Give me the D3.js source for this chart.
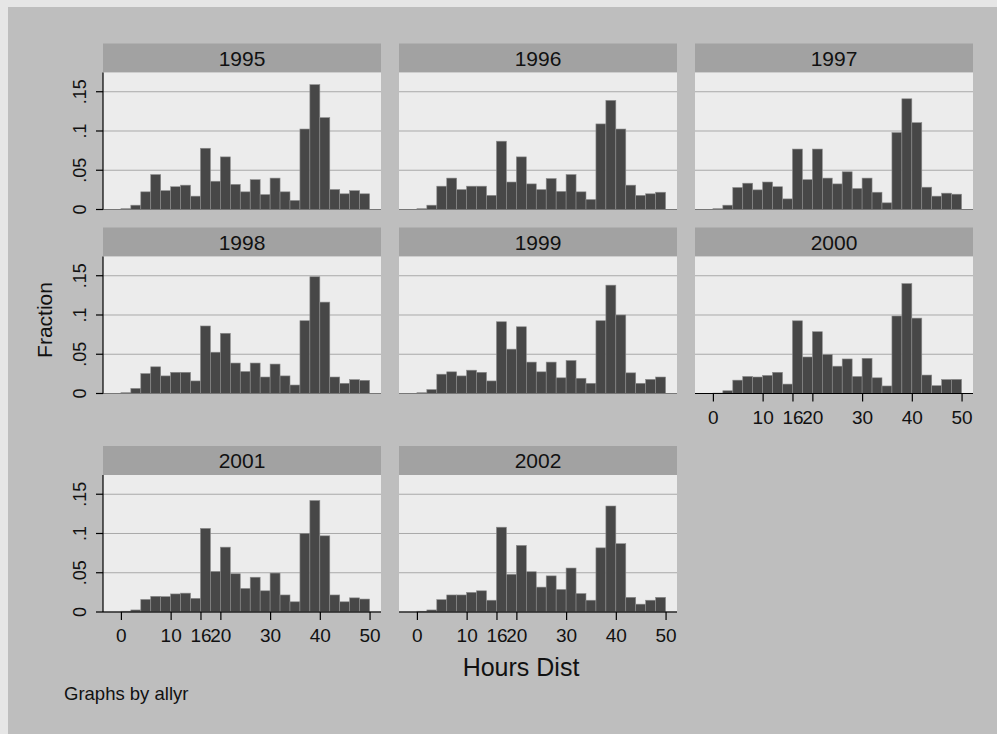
<!DOCTYPE html>
<meta charset="utf-8">
<style>
body{ margin:0; background:#e6e6e6; }
svg{ display:block; font-family:"Liberation Sans", Arial, sans-serif; }
.grid line{ stroke:#a9a9a9; stroke-width:1px; }
.bar{ fill:#474747; stroke:#8c8c8c; stroke-width:0.6px; }
.strip{ fill:#a2a2a2; }
.plotbg{ fill:#ececec; }
.axis path, .axis line{ stroke:#000; stroke-width:1.2px; }
.axis text{ fill:#111; }
</style>
<body>
<script src="https://cdn.jsdelivr.net/npm/d3@7"></script>
<script>
// bin edges: 25 bins of width 2 from 0 to 50
var binStart = d3.range(0, 50, 2);
var years = ["1995","1996","1997","1998","1999","2000","2001","2002"];
var xTicks = [0, 10, 16, 20, 30, 40, 50];
var yTicks = [0, 0.05, 0.1, 0.15];
var yTickLabels = ["0", ".05", ".1", ".15"];

var f1995 = [0.001,0.0055,0.0225,0.0445,0.024,0.029,0.031,0.017,0.078,0.036,0.067,0.032,0.0225,0.038,0.019,0.040,0.0225,0.0115,0.1025,0.159,0.117,0.0255,0.020,0.024,0.020];
var f1996 = [0.001,0.0055,0.0297,0.040,0.0254,0.0297,0.0297,0.018,0.087,0.035,0.067,0.0326,0.0254,0.0394,0.023,0.0445,0.0225,0.0127,0.109,0.139,0.1025,0.031,0.018,0.020,0.022];
var f1997 = [0.001,0.0055,0.028,0.0335,0.025,0.035,0.029,0.0135,0.077,0.038,0.077,0.040,0.0326,0.048,0.0267,0.040,0.022,0.0085,0.098,0.141,0.1106,0.0284,0.017,0.0208,0.0195];
var f1998 = [0.001,0.0065,0.0254,0.034,0.0224,0.027,0.027,0.016,0.086,0.0526,0.0767,0.0388,0.028,0.0388,0.021,0.0375,0.0224,0.0108,0.0927,0.1487,0.1164,0.021,0.013,0.0177,0.0168];
var f1999 = [0.001,0.005,0.0246,0.0276,0.0224,0.0297,0.027,0.016,0.0914,0.0565,0.085,0.040,0.0276,0.040,0.020,0.042,0.0194,0.013,0.0927,0.138,0.100,0.0263,0.013,0.018,0.021];
var f2000 = [0.0005,0.0035,0.017,0.0217,0.021,0.023,0.027,0.012,0.0926,0.0465,0.0787,0.0496,0.0348,0.044,0.0217,0.0448,0.020,0.0096,0.0987,0.140,0.096,0.0235,0.010,0.0178,0.018];
var f2001 = [0.001,0.0026,0.016,0.020,0.0196,0.023,0.024,0.0174,0.1065,0.0517,0.0826,0.0487,0.030,0.0443,0.027,0.0496,0.0217,0.013,0.100,0.142,0.097,0.0217,0.013,0.018,0.0165];
var f2002 = [0.001,0.0026,0.0157,0.0217,0.0217,0.025,0.027,0.015,0.108,0.048,0.0848,0.0513,0.0317,0.046,0.0287,0.056,0.0235,0.015,0.0817,0.135,0.087,0.0187,0.010,0.015,0.0187];
var fractions = [f1995,f1996,f1997,f1998,f1999,f2000,f2001,f2002];

var W = 997, H = 734;
var pw = 278, ph = 137, stripH = 29;
var colX = [103, 399, 695];
var rowY = [72.5, 256.5, 475];   // top of plot area in each row
var svg = d3.select("body").append("svg").attr("width", W).attr("height", H);

svg.append("rect").attr("x", 8).attr("y", 7).attr("width", W - 8).attr("height", H - 7).attr("fill", "#bebebe");

var x = d3.scaleLinear().domain([-3.6, 52.3]).range([0, pw]);
var y = d3.scaleLinear().domain([0, 0.1745]).range([ph, 0]);

years.forEach(function(yr, i){
  var col = i % 3, row = Math.floor(i / 3);
  var g = svg.append("g").attr("transform", "translate(" + colX[col] + "," + rowY[row] + ")");

  g.append("rect").attr("class", "strip").attr("x", 0).attr("y", -stripH).attr("width", pw).attr("height", stripH);
  g.append("text").attr("x", pw / 2).attr("y", -7).attr("text-anchor", "middle")
    .style("font-size", "21px").style("fill", "#111").text(yr);

  g.append("rect").attr("class", "plotbg").attr("width", pw).attr("height", ph);

  g.append("g").attr("class", "grid").selectAll("line").data(yTicks.slice(1)).enter().append("line")
    .attr("x1", 0).attr("x2", pw).attr("y1", function(d){ return y(d); }).attr("y2", function(d){ return y(d); });

  g.selectAll(".bar").data(fractions[i]).enter().append("rect").attr("class", "bar")
    .attr("x", function(d, j){ return x(binStart[j]); })
    .attr("width", x(2) - x(0))
    .attr("y", function(d){ return y(d); })
    .attr("height", function(d){ return ph - y(d); });

  g.append("line").attr("x1", 0).attr("x2", pw).attr("y1", ph).attr("y2", ph).attr("stroke", "#777").attr("stroke-width", 1);

  if (col === 0) {
    var ya = g.append("g").attr("class", "axis")
      .call(d3.axisLeft(y).tickValues(yTicks).tickFormat(function(d, k){ return yTickLabels[k]; }).tickSize(7).tickSizeOuter(0));
    ya.select(".domain").attr("d", "M0," + ph + "V0");
    ya.selectAll("text").attr("transform", "rotate(-90)").attr("text-anchor", "middle")
      .attr("x", function(d){ return -y(d); }).attr("y", -17).attr("dy", 0).style("font-size", "18px");
    ya.selectAll(".tick").attr("transform", "translate(0,0)");
    ya.selectAll(".tick line").attr("y1", function(d){ return y(d); }).attr("y2", function(d){ return y(d); });
  }
  if (i >= 5) {
    var xa = g.append("g").attr("class", "axis").attr("transform", "translate(0," + ph + ")")
      .call(d3.axisBottom(x).tickValues(xTicks).tickFormat(d3.format("d")).tickSize(8).tickSizeOuter(0));
    xa.select(".domain").attr("d", "M0,0H" + pw);
    xa.selectAll("text").attr("dy", 0).attr("y", 30).style("font-size", "19px");
  }
});

svg.append("text").attr("transform", "translate(52,320) rotate(-90)").attr("text-anchor", "middle")
  .style("font-size", "21px").style("fill", "#111").text("Fraction");
svg.append("text").attr("x", 521).attr("y", 676).attr("text-anchor", "middle")
  .style("font-size", "25px").style("fill", "#111").text("Hours Dist");
svg.append("text").attr("x", 64).attr("y", 700)
  .style("font-size", "18.5px").style("fill", "#111").text("Graphs by allyr");
</script>
</body>
